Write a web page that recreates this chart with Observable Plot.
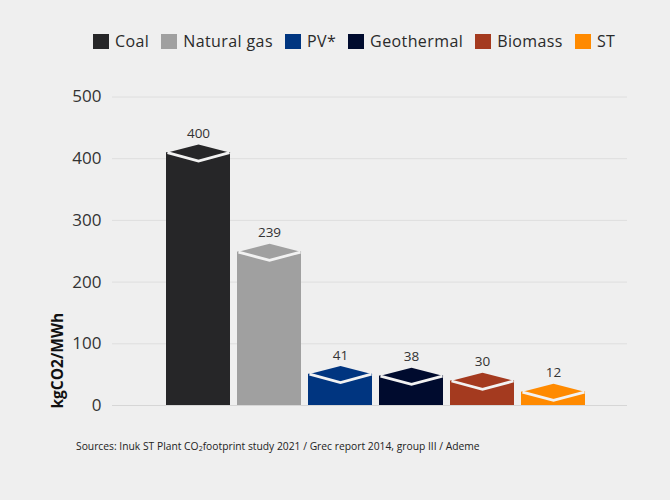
<!DOCTYPE html>
<html>
<head>
<meta charset="utf-8">
<script src="https://cdn.jsdelivr.net/npm/d3@7"></script>
<script src="https://cdn.jsdelivr.net/npm/@observablehq/plot@0.6"></script>
<style>
  html, body { margin: 0; padding: 0; background: #efefef; }
  body { width: 670px; height: 500px; overflow: hidden; font-family: "Open Sans", sans-serif; }
  #legend { height: 60px; box-sizing: border-box; padding-top: 22px; padding-left: 93px; display: flex; align-items: center; font-size: 16px; letter-spacing: 0.4px; color: #2a2a2a; white-space: nowrap; }
  #legend .item { display: flex; align-items: center; margin-right: 12px; height: 20px; }
  #legend .sw { width: 16px; height: 15px; margin-right: 6px; display: inline-block; }
  #caption { font-size: 10.3px; color: #222; padding-left: 76px; padding-top: 14px; line-height: 14px; }
</style>
</head>
<body>
<div id="legend"></div>
<div id="chart"></div>
<div id="caption">Sources: Inuk ST Plant CO<sub style="font-size:7px;vertical-align:-1px">2</sub>footprint study 2021 / Grec report 2014, group III / Ademe</div>
<script>
const sources = ["Coal", "Natural gas", "PV*", "Geothermal", "Biomass", "ST"];
const values = [400, 239, 41, 38, 30, 12];
const colors = ["#262628", "#a0a0a0", "#003580", "#000b2e", "#a43a1f", "#ff8a00"];
const yTicks = [0, 100, 200, 300, 400, 500];
const yLabel = "kgCO2/MWh";

const data = sources.map((s, i) => ({source: s, value: values[i]}));

// legend
const legend = document.getElementById("legend");
sources.forEach((s, i) => {
  const it = document.createElement("span");
  it.className = "item";
  it.innerHTML = `<span class="sw" style="background:${colors[i]}"></span><span>${s}</span>`;
  legend.appendChild(it);
});

const lift = 6;   // 3D top face raised slightly above the value
const halfH = 8.3;
let halfW = 32;
const topFace = {draw(ctx) {
  ctx.moveTo(-halfW, 0); ctx.lineTo(0, -halfH); ctx.lineTo(halfW, 0); ctx.lineTo(0, halfH); ctx.closePath();
}};
const vEdge = {draw(ctx) {
  ctx.moveTo(-halfW + 1, 0); ctx.lineTo(0, halfH); ctx.lineTo(halfW - 1, 0);
}};

function build(withTops) {
  return Plot.plot({
    width: 670,
    height: 365,
    marginLeft: 112,
    marginRight: 43,
    marginTop: 36.5,
    marginBottom: 20,
    style: {background: "transparent", fontFamily: "Open Sans, sans-serif"},
    x: {domain: sources, paddingInner: 0.1, paddingOuter: 0, insetLeft: 51.5, insetRight: 40, axis: null},
    y: {domain: [0, 500], ticks: yTicks},
    color: {domain: sources, range: colors},
    marks: [
      Plot.gridY(yTicks.slice(1), {stroke: "#dedede", strokeOpacity: 1}),
      Plot.axisY(yTicks, {tickSize: 0, tickPadding: 11, fontSize: 17, fill: "#333", label: null}),
      Plot.barY(data, {x: "source", y: "value", fill: "source", insetTop: -lift}),
      ...(withTops ? [
        Plot.dot(data, {x: "source", y: "value", dy: -lift, fill: "source", stroke: "none", r: 10, symbol: topFace}),
        Plot.dot(data, {x: "source", y: "value", dy: -lift, fill: "none", stroke: "#f2f2f2", strokeWidth: 2.8, r: 10, symbol: vEdge, strokeLinejoin: "miter"})
      ] : []),
      Plot.ruleY([0], {stroke: "#d6d6d6"}),
      Plot.text(data, {x: "source", y: "value", text: d => String(d.value), dy: -25, fontSize: 13.5, fill: "#333"}),
      Plot.text([yLabel], {frameAnchor: "bottom-left", text: d => d, rotate: -90, textAnchor: "start", dx: -50, dy: 3, fontSize: 15.5, fontWeight: "bold", fill: "#111"})
    ]
  });
}
const p0 = build(false);
halfW = p0.scale("x").bandwidth / 2;
document.getElementById("chart").appendChild(build(true));
</script>
</body>
</html>
